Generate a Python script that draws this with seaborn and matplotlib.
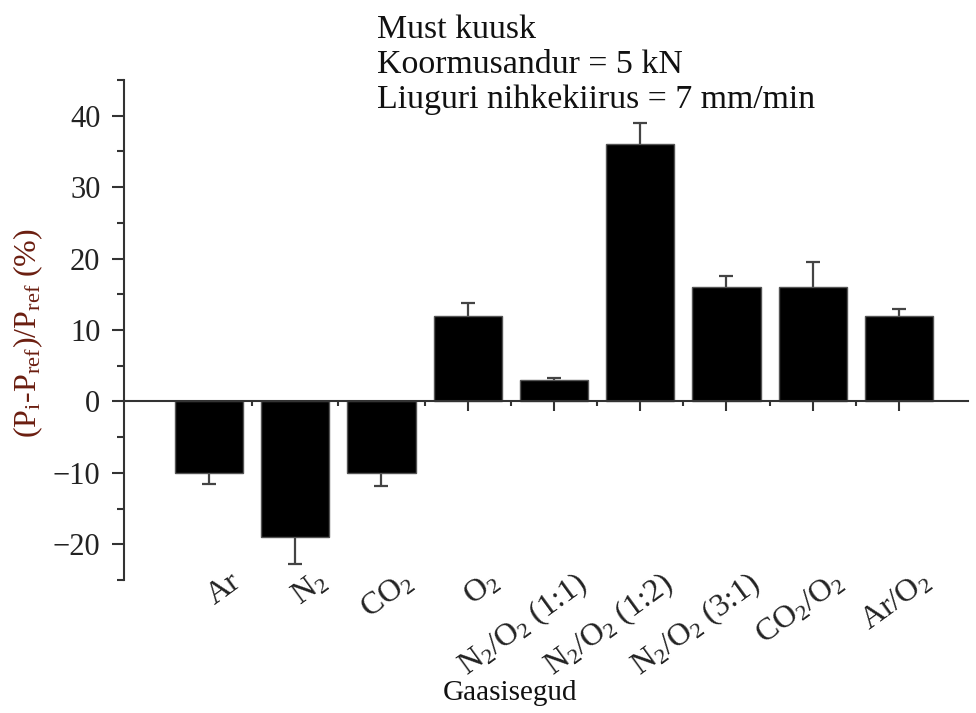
import matplotlib
matplotlib.use("Agg")
import matplotlib.pyplot as plt
import matplotlib.transforms as mtransforms
from matplotlib.ticker import MultipleLocator
import numpy as np
import pandas as pd
import seaborn as sns

# ---- data ----
categories = ["Ar", "N$_2$", "CO$_2$", "O$_2$", "N$_2$/O$_2$ (1:1)", "N$_2$/O$_2$ (1:2)",
              "N$_2$/O$_2$ (3:1)", "CO$_2$/O$_2$", "Ar/O$_2$"]
values = [-10.0, -19.0, -10.0, 12.0, 3.0, 36.0, 16.0, 16.0, 12.0]
errors = [1.5, 3.8, 1.8, 1.8, 0.3, 3.0, 1.5, 3.5, 1.0]
title_lines = ["Must kuusk", "Koormusandur = 5 kN", "Liuguri nihkekiirus = 7 mm/min"]
x_label = "Gaasisegud"
y_label = "(P$_i$-P$_{ref}$)/P$_{ref}$ (%)"

sns.set_style("ticks")
plt.rcParams["font.family"] = ["Liberation Serif", "DejaVu Serif"]
plt.rcParams["mathtext.fontset"] = "custom"
plt.rcParams["mathtext.rm"] = "Liberation Serif"
plt.rcParams["mathtext.it"] = "Liberation Serif"
plt.rcParams["mathtext.default"] = "regular"

df = pd.DataFrame({"cat": categories, "val": values, "err": errors})

fig = plt.figure(figsize=(9.76, 7.13), dpi=100)
ax = fig.add_axes([124 / 976, (713 - 580) / 713, 844 / 976, 500 / 713])

sns.barplot(data=df, x="cat", y="val", order=categories, color="black",
            edgecolor="#555555", linewidth=1.0, width=0.79, ax=ax, zorder=3,
            saturation=1)
xpos = np.arange(len(categories))
ax.errorbar(xpos, df["val"], yerr=df["err"], fmt="none", ecolor="#444444",
            elinewidth=1.6, capsize=4.8, capthick=1.6, zorder=2)

ax.set_xlim(-0.985, 8.8)
ax.set_ylim(-25, 45)

# spines
for s in ["top", "right"]:
    ax.spines[s].set_visible(False)
ax.spines["bottom"].set_position(("data", 0))
for s in ["left", "bottom"]:
    ax.spines[s].set_color("#333333")
    ax.spines[s].set_linewidth(1.5)
ax.spines["bottom"].set_zorder(4)

ax.yaxis.set_major_locator(MultipleLocator(10))
ax.yaxis.set_minor_locator(MultipleLocator(5))
ax.set_xticks(xpos)
ax.set_xticks(xpos[:-1] + 0.5, minor=True)
ax.set_xticklabels([""] * len(categories))
ax.tick_params(axis="y", which="major", direction="out", length=9, width=1.5,
               color="#333333", labelsize=22, labelcolor="#222222", pad=8)
ax.tick_params(axis="y", which="minor", direction="out", length=5, width=1.5,
               color="#333333")
ax.tick_params(axis="x", which="major", direction="out", length=7, width=1.5,
               color="#333333")
ax.tick_params(axis="x", which="minor", direction="out", length=3.5, width=1.5,
               color="#333333")
ax.set_xlabel("")
ax.set_ylabel("")

# rotated category labels
trans = mtransforms.offset_copy(ax.get_xaxis_transform(), fig=fig, x=20, y=13,
                                units="dots")
for i, lab in enumerate(categories):
    ax.text(i, 0, lab, transform=trans, rotation=36, rotation_mode="anchor",
            ha="right", va="top", fontsize=23, color="#222222")

fig.text(510 / 976, 1 - 693 / 713, x_label, ha="center", va="center",
         fontsize=21, color="#111111")
fig.text(28 / 976, 1 - 333 / 713, y_label, ha="center", va="center",
         rotation=90, fontsize=23, color="#6b1e10")
fig.text(377 / 976, 1 - 14 / 713, "\n".join(title_lines), ha="left", va="top",
         fontsize=24.4, color="#111111", linespacing=1.2)

fig.savefig("out.png", dpi=100, facecolor="white")
